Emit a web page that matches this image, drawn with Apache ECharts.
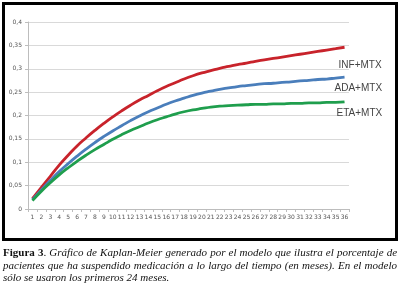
<!DOCTYPE html>
<html>
<head>
<meta charset="utf-8">
<script src="https://cdn.jsdelivr.net/npm/echarts@6/dist/echarts.min.js"></script>
<style>
  html, body { margin: 0; padding: 0; background: #fff; }
  #wrap { position: relative; width: 400px; height: 298px; overflow: hidden; }
  #chart { position: absolute; left: 0; top: 0; width: 400px; height: 245px; }
  #frame { position: absolute; left: 2px; top: 2px; width: 396px; height: 239px; box-sizing: border-box; border: 3px solid #000; pointer-events: none; }
  #caption { position: absolute; left: 3px; top: 246px; width: 394px; font-family: "Liberation Serif", "DejaVu Serif", serif; font-size: 11px; line-height: 12.5px; color: #111; }
  #caption div { text-align: justify; text-align-last: justify; white-space: nowrap; }
  #caption div.last { text-align-last: left; }
  #caption i { font-style: italic; }
</style>
</head>
<body>
<div id="wrap">
  <div id="chart"></div>
  <div id="frame"></div>
  <div id="caption">
    <div><b>Figura 3</b>. <i>Gráfico de Kaplan-Meier generado por el modelo que ilustra el porcentaje de</i></div>
    <div><i>pacientes que ha suspendido medicación a lo largo del tiempo (en meses). En el modelo</i></div>
    <div class="last"><i>sólo se usaron los primeros 24 meses.</i></div>
  </div>
</div>
<script>
const months = ['1','2','3','4','5','6','7','8','9','10','11','12','13','14','15','16','17','18',
  '19','20','21','22','23','24','25','26','27','28','29','30','31','32','33','34','35','36'];

const infMtx = [0.022, 0.046, 0.070, 0.094, 0.115, 0.135, 0.152, 0.168, 0.183, 0.197, 0.210, 0.222,
  0.233, 0.243, 0.253, 0.262, 0.270, 0.278, 0.285, 0.291, 0.296, 0.301, 0.305, 0.309,
  0.312, 0.316, 0.319, 0.322, 0.325, 0.328, 0.331, 0.334, 0.337, 0.340, 0.343, 0.346];

const adaMtx = [0.020, 0.041, 0.061, 0.080, 0.097, 0.113, 0.128, 0.142, 0.155, 0.167, 0.178, 0.189,
  0.199, 0.208, 0.216, 0.224, 0.231, 0.237, 0.243, 0.248, 0.252, 0.256, 0.259, 0.262,
  0.264, 0.266, 0.268, 0.269, 0.271, 0.272, 0.274, 0.275, 0.277, 0.278, 0.280, 0.282];

const etaMtx = [0.018, 0.038, 0.056, 0.073, 0.088, 0.102, 0.115, 0.127, 0.138, 0.149, 0.159, 0.168,
  0.176, 0.184, 0.191, 0.197, 0.203, 0.208, 0.212, 0.215, 0.218, 0.220, 0.221, 0.222,
  0.223, 0.224, 0.224, 0.225, 0.225, 0.226, 0.226, 0.227, 0.227, 0.228, 0.228, 0.229];

const seriesNames = ['INF+MTX', 'ADA+MTX', 'ETA+MTX'];
const yTicks = { min: 0, max: 0.4, step: 0.05 };

const chart = echarts.init(document.getElementById('chart'), null, { renderer: 'canvas' });

const line = (name, data, color, offset) => ({
  name,
  type: 'line',
  data,
  smooth: true,
  symbol: 'none',
  lineStyle: { color, width: 2.8 },
  endLabel: {
    show: true,
    formatter: '{a}',
    color: '#444',
    fontSize: 10,
    fontFamily: 'Liberation Sans, Arial, sans-serif',
    offset
  }
});

chart.setOption({
  animation: false,
  grid: { left: 28, right: 51, top: 22, bottom: 36, containLabel: false },
  xAxis: {
    type: 'category',
    data: months,
    boundaryGap: true,
    axisLine: { lineStyle: { color: '#bdbdbd', width: 1 } },
    axisTick: { show: true, interval: 0, length: 3, lineStyle: { color: '#bdbdbd' } },
    axisLabel: { interval: 0, fontSize: 6, color: '#555', margin: 5, fontFamily: 'DejaVu Sans' }
  },
  yAxis: {
    type: 'value',
    min: yTicks.min,
    max: yTicks.max,
    interval: yTicks.step,
    axisLine: { show: true, lineStyle: { color: '#bdbdbd' } },
    axisTick: { show: true, length: 3, lineStyle: { color: '#bdbdbd' } },
    splitLine: { lineStyle: { color: '#d9d9d9', width: 1 } },
    axisLabel: {
      fontSize: 6,
      color: '#555',
      margin: 6,
      fontFamily: 'DejaVu Sans',
      formatter: v => String(+v.toFixed(2)).replace('.', ',')
    }
  },
  series: [
    line(seriesNames[0], infMtx, '#c8232b', [-14, 18]),
    line(seriesNames[1], adaMtx, '#4a7ebb', [-18, 11]),
    line(seriesNames[2], etaMtx, '#1f9e4d', [-16, 11])
  ]
});
</script>
</body>
</html>
